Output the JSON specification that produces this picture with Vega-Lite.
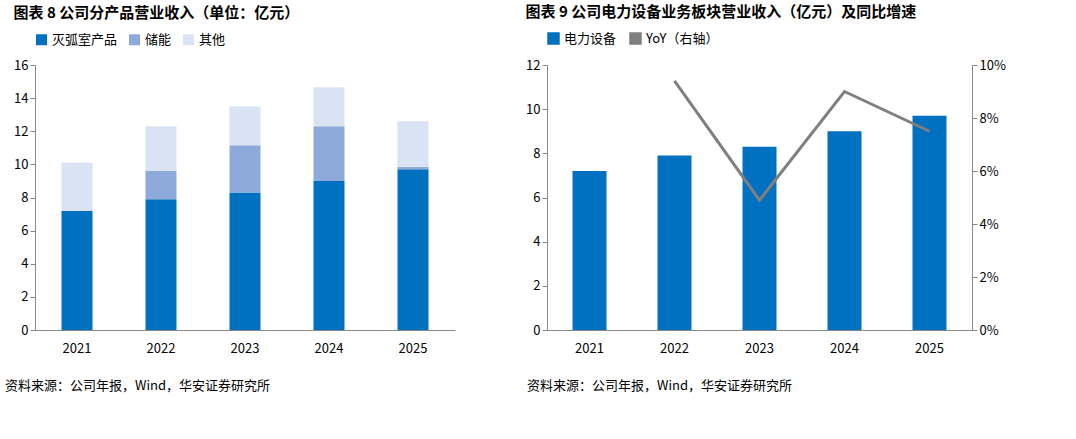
{
  "$schema": "https://vega.github.io/schema/vega-lite/v6.json",
  "config": {
    "font": "Noto Sans CJK SC",
    "view": {"stroke": null},
    "axis": {"labelFontSize": 13, "labelColor": "#000", "domainColor": "#888", "tickColor": "#888", "grid": false, "title": null},
    "legend": {"labelFontSize": 13, "orient": "top", "title": null, "symbolSize": 120, "symbolType": "square"},
    "title": {"anchor": "start", "fontSize": 15, "fontWeight": "bold", "color": "#000", "offset": 12}
  },
  "spacing": 70,
  "resolve": {"scale": {"color": "independent"}, "legend": {"color": "independent"}},
  "hconcat": [
    {
      "spacing": 25,
      "resolve": {"scale": {"color": "independent"}, "legend": {"color": "independent"}},
      "vconcat": [
        {
          "title": "图表 8 公司分产品营业收入（单位：亿元）",
          "width": 420,
          "height": 265,
          "data": {"values": [
            {"year": "2021", "type": "灭弧室产品", "o": 1, "v": 7.2},
            {"year": "2021", "type": "储能", "o": 2, "v": 0},
            {"year": "2021", "type": "其他", "o": 3, "v": 2.9},
            {"year": "2022", "type": "灭弧室产品", "o": 1, "v": 7.9},
            {"year": "2022", "type": "储能", "o": 2, "v": 1.7},
            {"year": "2022", "type": "其他", "o": 3, "v": 2.7},
            {"year": "2023", "type": "灭弧室产品", "o": 1, "v": 8.3},
            {"year": "2023", "type": "储能", "o": 2, "v": 2.85},
            {"year": "2023", "type": "其他", "o": 3, "v": 2.35},
            {"year": "2024", "type": "灭弧室产品", "o": 1, "v": 9.0},
            {"year": "2024", "type": "储能", "o": 2, "v": 3.3},
            {"year": "2024", "type": "其他", "o": 3, "v": 2.35},
            {"year": "2025", "type": "灭弧室产品", "o": 1, "v": 9.7},
            {"year": "2025", "type": "储能", "o": 2, "v": 0.15},
            {"year": "2025", "type": "其他", "o": 3, "v": 2.75}
          ]},
          "mark": {"type": "bar", "width": 31},
          "encoding": {
            "x": {"field": "year", "type": "ordinal", "axis": {"labelAngle": 0, "ticks": false, "labelPadding": 12}},
            "y": {"field": "v", "type": "quantitative", "stack": "zero", "scale": {"domain": [0, 16]}, "axis": {"tickCount": 8}},
            "color": {"field": "type", "type": "nominal", "sort": ["灭弧室产品", "储能", "其他"],
              "scale": {"domain": ["灭弧室产品", "储能", "其他"], "range": ["#0070c0", "#8eaadb", "#dae3f3"]},
              "legend": {"orient": "top", "direction": "horizontal"}},
            "order": {"field": "o"}
          }
        },
        {
          "width": 420, "height": 10,
          "data": {"values": [{"t": "资料来源：公司年报，Wind，华安证券研究所"}]},
          "mark": {"type": "text", "align": "left", "fontSize": 13, "dx": -30},
          "encoding": {"text": {"field": "t"}, "x": {"value": 0}, "y": {"value": 5}}
        }
      ]
    },
    {
      "spacing": 25,
      "resolve": {"scale": {"color": "independent"}, "legend": {"color": "independent"}},
      "vconcat": [
        {
          "title": "图表 9 公司电力设备业务板块营业收入（亿元）及同比增速",
          "width": 425,
          "height": 265,
          "data": {"values": [
            {"year": "2021", "rev": 7.2, "yoy": null},
            {"year": "2022", "rev": 7.9, "yoy": 0.094},
            {"year": "2023", "rev": 8.3, "yoy": 0.049},
            {"year": "2024", "rev": 9.0, "yoy": 0.090},
            {"year": "2025", "rev": 9.7, "yoy": 0.075}
          ]},
          "encoding": {
            "x": {"field": "year", "type": "ordinal", "axis": {"labelAngle": 0, "ticks": false, "labelPadding": 12}}
          },
          "layer": [
            {
              "mark": {"type": "bar", "width": 34},
              "encoding": {
                "y": {"field": "rev", "type": "quantitative", "scale": {"domain": [0, 12]}, "axis": {"tickCount": 6}},
                "color": {"datum": "电力设备", "type": "nominal",
                  "scale": {"domain": ["电力设备", "YoY（右轴）"], "range": ["#0070c0", "#7f7f7f"]},
                  "legend": {"orient": "top", "direction": "horizontal", "symbolType": "square"}}
              }
            },
            {
              "mark": {"type": "line", "strokeWidth": 3},
              "encoding": {
                "y": {"field": "yoy", "type": "quantitative", "scale": {"domain": [0, 0.1]}, "axis": {"orient": "right", "format": ".0%", "tickCount": 5}},
                "color": {"datum": "YoY（右轴）", "type": "nominal"}
              }
            }
          ],
          "resolve": {"scale": {"y": "independent"}}
        },
        {
          "width": 425, "height": 10,
          "data": {"values": [{"t": "资料来源：公司年报，Wind，华安证券研究所"}]},
          "mark": {"type": "text", "align": "left", "fontSize": 13, "dx": -20},
          "encoding": {"text": {"field": "t"}, "x": {"value": 0}, "y": {"value": 5}}
        }
      ]
    }
  ]
}
